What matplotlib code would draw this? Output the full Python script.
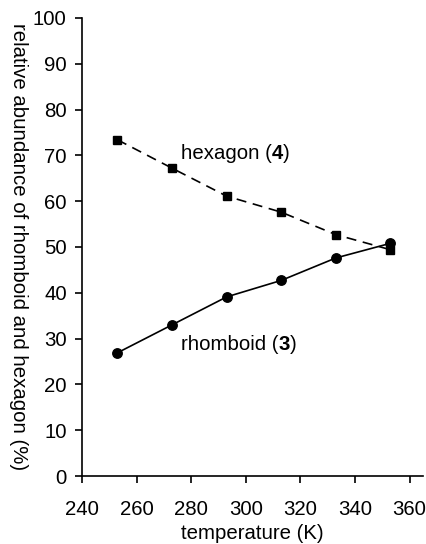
import matplotlib
matplotlib.use("Agg")
import matplotlib.pyplot as plt

temperature = [253, 273, 293, 313, 333, 353]
hexagon = [73.4, 67.2, 61.1, 57.6, 52.7, 49.4]
rhomboid = [26.9, 33.0, 39.1, 42.7, 47.6, 50.8]
xticks = [240, 260, 280, 300, 320, 340, 360]
yticks = [0, 10, 20, 30, 40, 50, 60, 70, 80, 90, 100]

FS = 14.7
plt.rcParams['font.family'] = ['Liberation Sans', 'DejaVu Sans']
fig = plt.figure(figsize=(4.27, 5.44), dpi=100)
ax = fig.add_axes([0.192, 0.125, 0.799, 0.842])

ax.plot(temperature, hexagon, color='black', lw=1.2, linestyle=(0, (6, 4)),
        marker='s', markersize=6.3, zorder=3)
ax.plot(temperature, rhomboid, color='black', lw=1.2, linestyle='-',
        marker='o', markersize=6.8, zorder=3)

ax.set_xlim(240, 365)
ax.set_ylim(0, 100)
ax.set_xticks(xticks)
ax.set_yticks(yticks)
ax.spines['top'].set_visible(False)
ax.spines['right'].set_visible(False)
ax.spines['left'].set_linewidth(1.2)
ax.spines['bottom'].set_linewidth(1.2)
ax.tick_params(direction='out', length=5, width=1.2, labelsize=FS)
ax.tick_params(axis='y', pad=6)
ax.tick_params(axis='x', pad=12)


def label(x, y, pre, num):
    t = ax.text(x, y, pre, fontsize=FS, va='center', ha='left')
    n = ax.annotate(num, xy=(1, 0.5), xycoords=t, va='center', ha='left',
                    fontsize=FS, fontweight='bold')
    ax.annotate(')', xy=(1, 0.5), xycoords=n, va='center', ha='left', fontsize=FS)


label(276.3, 70.5, 'hexagon (', '4')
label(276.3, 28.7, 'rhomboid (', '3')

ax.set_xlabel('temperature (K)', fontsize=FS)
ax.xaxis.set_label_coords(0.5, -0.126)
ax.xaxis.label.set_va('center')
ax.set_ylabel('relative abundance of rhomboid and hexagon (%)', fontsize=FS,
              rotation=270)
ax.yaxis.set_label_coords(-0.185, 0.5)
ax.yaxis.label.set_va('center')

fig.savefig('out.png', dpi=100)
